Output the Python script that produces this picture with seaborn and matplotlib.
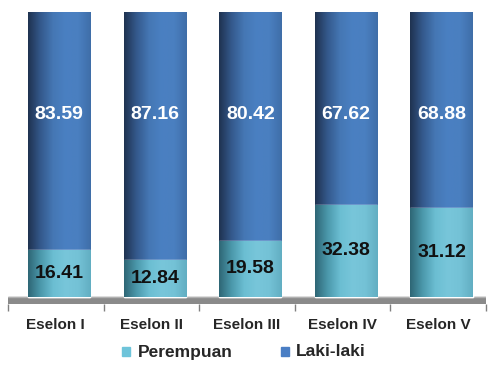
import matplotlib
matplotlib.use('Agg')
import matplotlib.pyplot as plt
import seaborn as sns
import numpy as np
import pandas as pd
from matplotlib.colors import LinearSegmentedColormap
from matplotlib.patches import Patch

# data
eselon = ['Eselon I', 'Eselon II', 'Eselon III', 'Eselon IV', 'Eselon V']
perempuan = [16.41, 12.84, 19.58, 32.38, 31.12]
laki = [83.59, 87.16, 80.42, 67.62, 68.88]

df = pd.DataFrame({'eselon': eselon, 'perempuan': perempuan, 'laki': laki})
df['total'] = df['perempuan'] + df['laki']

sns.set_style('white')
plt.rcParams['font.family'] = ['Liberation Sans', 'DejaVu Sans']

fig = plt.figure(figsize=(4.88, 3.66), dpi=100)
ax = fig.add_axes([8 / 488, 62 / 366, 478 / 488, 292 / 366])

blue = '#4a7ec4'
cyan = '#6ec4da'
sns.barplot(data=df, x='eselon', y='total', color=blue, width=0.65,
            saturation=1, ax=ax, zorder=2)
sns.barplot(data=df, x='eselon', y='perempuan', color=cyan, width=0.65,
            saturation=1, ax=ax, zorder=3)

# small perspective shift + cylinder-like shading on each bar
shift = 0.035
cm_blue = LinearSegmentedColormap.from_list(
    'b', ['#1f3250', '#34598c', '#4577b4', '#4a80c2', '#4a7fc0', '#3f6ea8'])
cm_cyan = LinearSegmentedColormap.from_list(
    'c', ['#2e6675', '#4b98ab', '#6bbed2', '#78c6da', '#74c2d6', '#62aec2'])
grad = np.linspace(0, 1, 256).reshape(1, -1)
n = len(eselon)
for i, p in enumerate(list(ax.patches)):
    p.set_x(p.get_x() + shift)
    cmap = cm_blue if i < n else cm_cyan
    x0, y0 = p.get_x(), p.get_y()
    w, h = p.get_width(), p.get_height()
    im = ax.imshow(grad, cmap=cmap, aspect='auto',
                   extent=(x0, x0 + w, y0, y0 + h), zorder=p.get_zorder())
    im.set_clip_path(p)

# value labels
top_level = 64
for i, row in df.iterrows():
    ax.text(i + shift, row['perempuan'] / 2, f"{row['perempuan']:.2f}", ha='center',
            va='center', fontsize=14, fontweight='bold', color='#111111', zorder=5)
    ax.text(i + shift, top_level, f"{row['laki']:.2f}", ha='center', va='center',
            fontsize=14, fontweight='bold', color='white', zorder=5)

ax.set_xlim(-0.5, n - 0.5)
ax.set_ylim(-2.5, 100)
ax.axhspan(-2.5, 0, color='#8a8a8a', zorder=1)
ax.axhline(0, color='#b0b0b0', lw=1, zorder=1)

for s in ax.spines.values():
    s.set_visible(False)
ax.set_yticks([])
ax.set_xlabel('')
ax.set_ylabel('')
ax.set_xticks(np.arange(-0.5, n, 1), minor=True)
ax.tick_params(axis='x', which='minor', length=5, color='#808080',
               bottom=True, width=1)
ax.tick_params(axis='x', which='major', length=0, pad=10)
for lbl in ax.get_xticklabels():
    lbl.set_fontsize(11)
    lbl.set_fontweight('bold')

handles = [Patch(color=cyan, label='Perempuan'),
           Patch(color=blue, label='Laki-laki')]
leg = fig.legend(handles=handles, loc='center', bbox_to_anchor=(0.5, 1 - 352 / 366),
                 ncol=2, frameon=False, handlelength=0.6, handleheight=0.6,
                 columnspacing=3.5, handletextpad=0.5)
for t in leg.get_texts():
    t.set_fontsize(12.5)
    t.set_fontweight('bold')

fig.savefig('out.png', dpi=100)
